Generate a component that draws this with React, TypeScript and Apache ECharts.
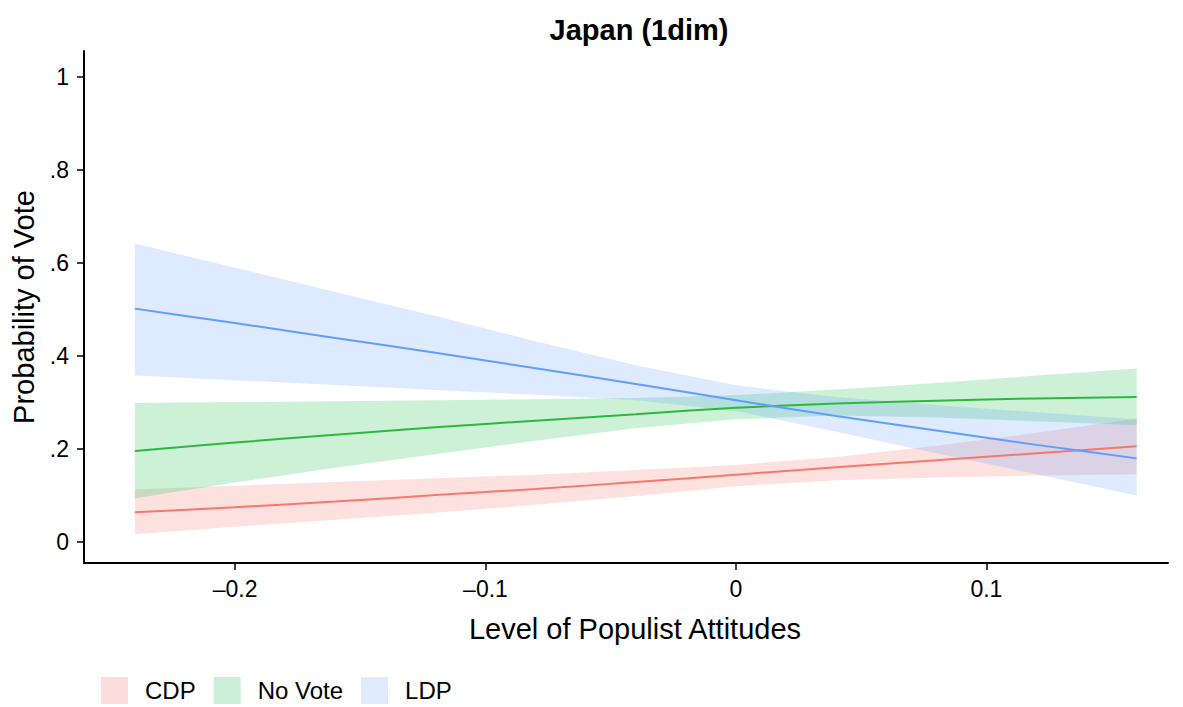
import React, { useEffect, useRef } from "react";
import * as echarts from "echarts";

const xs = [-0.24, -0.2, -0.16, -0.12, -0.08, -0.04, 0, 0.04, 0.08, 0.12, 0.16];

const cdpMid = [0.064, 0.075, 0.087, 0.101, 0.114, 0.129, 0.145, 0.161, 0.176, 0.191, 0.206];
const cdpHi = [0.113, 0.121, 0.129, 0.137, 0.145, 0.155, 0.166, 0.183, 0.207, 0.235, 0.265];
const cdpLo = [0.017, 0.033, 0.048, 0.063, 0.08, 0.099, 0.12, 0.133, 0.139, 0.143, 0.146];

const noMid = [0.196, 0.214, 0.231, 0.247, 0.261, 0.275, 0.289, 0.298, 0.304, 0.309, 0.312];
const noHi = [0.299, 0.301, 0.303, 0.305, 0.307, 0.31, 0.316, 0.328, 0.342, 0.358, 0.373];
const noLo = [0.094, 0.128, 0.16, 0.189, 0.218, 0.245, 0.264, 0.272, 0.268, 0.26, 0.251];

const ldpMid = [0.502, 0.471, 0.439, 0.407, 0.374, 0.34, 0.305, 0.271, 0.24, 0.209, 0.18];
const ldpHi = [0.642, 0.59, 0.538, 0.486, 0.432, 0.38, 0.337, 0.312, 0.295, 0.279, 0.264];
const ldpLo = [0.358, 0.348, 0.338, 0.327, 0.317, 0.305, 0.282, 0.237, 0.191, 0.146, 0.1];

const xTicks = [-0.2, -0.1, 0, 0.1];
const yTicks = [0, 0.2, 0.4, 0.6, 0.8, 1];

const parties = [
  { name: "CDP", mid: cdpMid, hi: cdpHi, lo: cdpLo, line: "#F8766D", fill: "rgba(248,118,109,0.22)", legendFill: "#FDDDDB" },
  { name: "No Vote", mid: noMid, hi: noHi, lo: noLo, line: "#2DB83D", fill: "rgba(0,186,56,0.2)", legendFill: "#CCEFD7" },
  { name: "LDP", mid: ldpMid, hi: ldpHi, lo: ldpLo, line: "#619CFF", fill: "rgba(97,156,255,0.21)", legendFill: "#DFEAFB" },
];

const FONT = "'Liberation Sans', Arial, Helvetica, sans-serif";

function fmtX(v: number) {
  const r = Math.round(v * 10) / 10;
  if (r === 0) return "0";
  return r < 0 ? "\u2013" + Math.abs(r).toString() : r.toString();
}
function fmtY(v: number) {
  const r = Math.round(v * 10) / 10;
  if (r === 0) return "0";
  if (r === 1) return "1";
  return r.toString().replace(/^0/, "");
}

export default function App() {
  const ref = useRef<HTMLDivElement>(null);
  useEffect(() => {
    if (!ref.current) return;
    const chart = echarts.init(ref.current, null, { renderer: "svg" });
    const series: any[] = [];
    parties.forEach((p) => {
      series.push({
        type: "custom",
        name: p.name,
        data: [[0, 0]],
        silent: true,
        z: 1,
        itemStyle: { color: p.legendFill },
        renderItem: (_params: any, api: any) => {
          const upper = xs.map((x, k) => api.coord([x, p.hi[k]]));
          const lower = xs.map((x, k) => api.coord([x, p.lo[k]])).reverse();
          return {
            type: "polygon",
            shape: { points: upper.concat(lower), smooth: 0 },
            style: { fill: p.fill, stroke: "none" },
            silent: true,
          };
        },
      });
    });
    parties.forEach((p) => {
      series.push({
        type: "line",
        name: p.name + "_mid",
        data: xs.map((x, k) => [x, p.mid[k]]),
        symbol: "none",
        smooth: 0.2,
        lineStyle: { color: p.line, width: 2 },
        silent: true,
        z: 3,
      });
    });
    chart.setOption({
      animation: false,
      backgroundColor: "#ffffff",
      textStyle: { fontFamily: FONT },
      title: {
        text: "Japan (1dim)",
        left: 634,
        textAlign: "center",
        top: 10,
        textStyle: { fontFamily: FONT, fontWeight: "bold", fontSize: 29, color: "#000" },
      },
      legend: {
        left: 101,
        top: 677,
        padding: 0,
        itemWidth: 27,
        itemHeight: 27,
        itemGap: 18,
        icon: "rect",
        textStyle: { fontFamily: FONT, fontSize: 24, lineHeight: 26, color: "#000", padding: [0, 0, 0, 12] },
        data: parties.map((p) => ({ name: p.name, itemStyle: { color: p.legendFill } })),
        selectedMode: false,
      },
      grid: { left: 84, right: 15, top: 51, bottom: 144, containLabel: false },
      xAxis: {
        type: "value",
        min: -0.2603,
        max: 0.1725,
        name: "Level of Populist Attitudes",
        nameLocation: "middle",
        nameGap: 51,
        nameTextStyle: { fontFamily: FONT, fontSize: 29, color: "#000", padding: [0, 0, 0, 18] },
        axisLine: { show: true, onZero: false, lineStyle: { color: "#000", width: 2 } },
        axisTick: { show: true, length: 7, customValues: xTicks, lineStyle: { color: "#000", width: 1.5 } },
        axisLabel: {
          customValues: xTicks,
          formatter: fmtX,
          fontFamily: FONT,
          fontSize: 23,
          color: "#000",
          margin: 14,
        },
        splitLine: { show: false },
      },
      yAxis: {
        type: "value",
        min: -0.045,
        max: 1.056,
        name: "Probability of Vote",
        nameLocation: "middle",
        nameGap: 46,
        nameTextStyle: { fontFamily: FONT, fontSize: 29, color: "#000" },
        axisLine: { show: true, onZero: false, lineStyle: { color: "#000", width: 2 } },
        axisTick: { show: true, length: 7, customValues: yTicks, lineStyle: { color: "#000", width: 1.5 } },
        axisLabel: {
          customValues: yTicks,
          formatter: fmtY,
          fontFamily: FONT,
          fontSize: 23,
          color: "#000",
          margin: 15,
        },
        splitLine: { show: false },
      },
      series,
    });
    return () => chart.dispose();
  }, []);
  return (
    <div
      ref={ref}
      style={{ position: "fixed", left: 0, top: 0, width: 1183, height: 707, background: "#fff" }}
    />
  );
}
